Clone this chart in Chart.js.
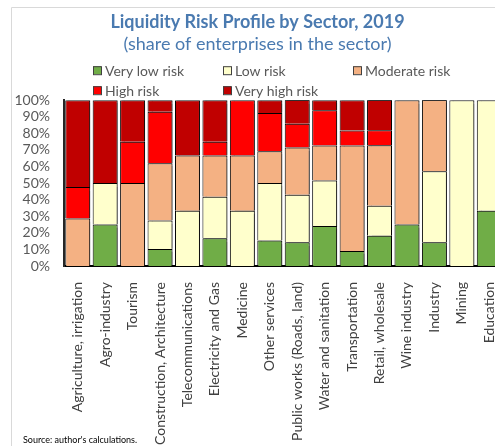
<!DOCTYPE html>
<html>
<head>
<meta charset="utf-8">
<script src="https://cdn.jsdelivr.net/npm/chart.js@4/dist/chart.umd.min.js"></script>
<style>
  html, body { margin: 0; padding: 0; background: #fff; overflow: hidden; }
  #wrap { width: 520px; height: 446px; }
</style>
</head>
<body>
<div id="wrap"><canvas id="risk-chart" width="520" height="446"></canvas></div>
<script>
const categories = [
  "Agriculture, irrigation",
  "Agro-industry",
  "Tourism",
  "Construction, Architecture",
  "Telecommunications",
  "Electricity and Gas",
  "Medicine",
  "Other services",
  "Public works (Roads, land)",
  "Water and sanitation",
  "Transportation",
  "Retail, wholesale",
  "Wine industry",
  "Industry",
  "Mining",
  "Education",
];

// share of enterprises, %
const veryLowRisk = [0, 25, 0, 10.3, 0, 16.7, 0, 15.4, 14.3, 24.2, 9.1, 18.2, 25, 14.3, 0, 33.3];
const lowRisk = [0, 25, 0, 17.2, 33.3, 25, 33.3, 34.6, 28.6, 27.3, 0, 18.2, 0, 42.9, 100, 66.7];
const moderateRisk = [28.6, 0, 50, 34.5, 33.3, 25, 33.3, 19.2, 28.6, 21.2, 63.6, 36.4, 75, 42.9, 0, 0];
const highRisk = [19.0, 0, 25, 31.0, 0, 8.3, 33.3, 23.1, 14.3, 21.2, 9.1, 9.1, 0, 0, 0, 0];
const veryHighRisk = [52.4, 50, 25, 6.9, 33.3, 25, 0, 7.7, 14.3, 6.1, 18.2, 18.2, 0, 0, 0, 0];

const yTicks = [0, 10, 20, 30, 40, 50, 60, 70, 80, 90, 100];

const series = [
  { label: "Very low risk", data: veryLowRisk, color: "#70ad47" },
  { label: "Low risk", data: lowRisk, color: "#ffffcc" },
  { label: "Moderate risk", data: moderateRisk, color: "#f4b183" },
  { label: "High risk", data: highRisk, color: "#ff0000" },
  { label: "Very high risk", data: veryHighRisk, color: "#c00000" },
];

const FONT = "Lato, 'Open Sans', sans-serif";

// frame, legend grid and source note
const decorations = {
  id: "decorations",
  beforeDraw(chart) {
    const c = chart.ctx;
    c.save();
    c.strokeStyle = "#d9d9d9";
    c.lineWidth = 1;
    c.beginPath();
    c.moveTo(11.5, 446);
    c.lineTo(11.5, 7.5);
    c.lineTo(chart.width, 7.5);
    c.stroke();
    c.restore();
  },
  beforeDatasetsDraw(chart) {
    const c = chart.ctx;
    c.save();
    c.shadowColor = "rgba(0,0,0,0.4)";
    c.shadowOffsetX = 2;
    c.shadowOffsetY = 0;
    c.shadowBlur = 1;
  },
  afterDatasetsDraw(chart) {
    chart.ctx.restore();
  },
  afterDraw(chart) {
    const c = chart.ctx;
    const top = chart.chartArea.top;
    c.save();
    c.font = "14px " + FONT;
    c.textBaseline = "middle";
    chart.data.datasets.forEach((ds, i) => {
      const col = i % 3;
      const row = Math.floor(i / 3);
      const x = 93 + col * 130;
      const y = top - 30 + row * 20;
      c.fillStyle = ds.backgroundColor;
      c.fillRect(x, y - 4, 8, 8);
      c.strokeStyle = "#404040";
      c.lineWidth = 1;
      c.strokeRect(x + 0.5, y - 3.5, 8, 8);
      c.fillStyle = "#595959";
      c.fillText(ds.label, x + 12, y + 1);
    });
    c.font = "9px " + FONT;
    c.fillStyle = "#000";
    c.textBaseline = "alphabetic";
    c.fillText("Source: author's calculations.", 23, 443);
    c.restore();
  },
};

const ctx = document.getElementById("risk-chart");
const chart = new Chart(ctx, {
  type: "bar",
  data: {
    labels: categories,
    datasets: series.map((s) => ({
      label: s.label,
      data: s.data,
      backgroundColor: s.color,
      borderColor: "#000",
      borderWidth: 1,
      barPercentage: 0.91,
      categoryPercentage: 1,
    })),
  },
  options: {
    responsive: false,
    animation: false,
    layout: { padding: { left: 12, right: 17, top: 0, bottom: 0 } },
    plugins: {
      legend: { display: false },
      tooltip: { enabled: false },
      title: {
        display: true,
        text: "Liquidity Risk Profile by Sector, 2019",
        color: "#4a7ab0",
        font: { family: FONT, size: 18, weight: "bold" },
        padding: { top: 11, bottom: 1 },
      },
      subtitle: {
        display: true,
        text: "(share of enterprises in the sector)",
        color: "#4a7ab0",
        font: { family: FONT, size: 18, weight: "normal" },
        padding: { top: 0, bottom: 45 },
      },
    },
    scales: {
      x: {
        stacked: true,
        grid: { display: false },
        border: { color: "#000", width: 2 },
        ticks: {
          color: "#404040",
          font: { family: FONT, size: 14 },
          minRotation: 90,
          maxRotation: 90,
          autoSkip: false,
          padding: 8,
        },
        afterFit(scale) {
          scale.height = 180;
        },
      },
      y: {
        stacked: true,
        min: 0,
        max: 100,
        grid: { display: false, drawTicks: false },
        border: { color: "#262626", width: 2 },
        afterBuildTicks(scale) {
          scale.ticks = yTicks.map((v) => ({ value: v }));
        },
        ticks: {
          color: "#595959",
          font: { family: FONT, size: 14 },
          autoSkip: false,
          padding: 14,
          callback: (v) => v + "%",
        },
        afterFit(scale) {
          scale.width = 52;
        },
      },
    },
  },
  plugins: [decorations],
});
</script>
</body>
</html>
